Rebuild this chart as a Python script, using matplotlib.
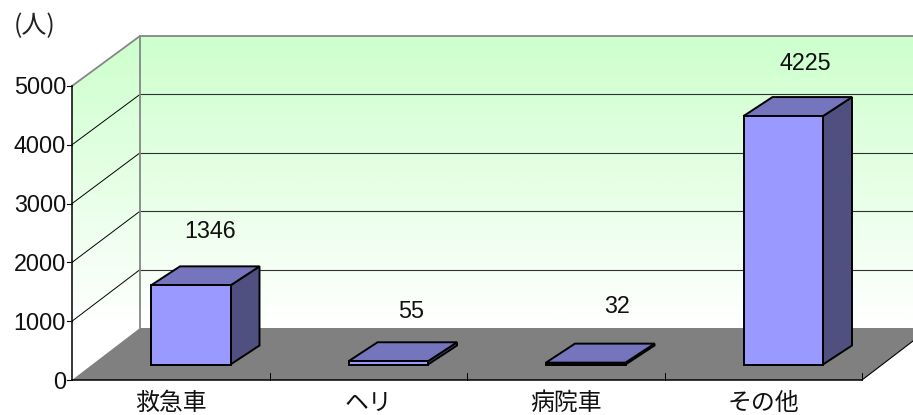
import numpy as np
import matplotlib
matplotlib.use("Agg")
import matplotlib.pyplot as plt
from matplotlib.colors import LinearSegmentedColormap
from matplotlib.patches import Polygon

categories = ["救急車", "ヘリ", "病院車", "その他"]
values = [1346, 55, 32, 4225]
y_ticks = [0, 1000, 2000, 3000, 4000, 5000]
unit_label = "(人)"

JP = ["Noto Sans CJK JP", "DejaVu Sans"]
NUM = "Liberation Sans"
FS = 16.8
FS_JP = 17.2

# 3D chart frame, in pixels
X0, X1, Y0 = 72, 862, 380
DX, DY_BOT, DY_TOP = 68, 52, 50
VMAX = 5000
FRONT_H = 294
BACK_H = 292
BAR_W, BAR_DX, BAR_DY = 79.5, 29, 19
BAR_BASE = 364.5
BAR_OFF = 79
# label offset from the bar's top-front-centre
LABEL_OFF = [(19, -54), (23, -50), (31, -56), (22, -53)]

fig = plt.figure(figsize=(9.13, 4.15), dpi=100)
ax = fig.add_axes([0, 0, 1, 1])
ax.axis("off")

def fy(v):
    return Y0 - FRONT_H * v / VMAX

def by(v):
    return (Y0 - DY_BOT) - BACK_H * v / VMAX

XB = X0 + DX
top_back, bot_back = by(VMAX), by(0)

# Gradient walls
cmap = LinearSegmentedColormap.from_list("wall", ["#CCFFCC", "#FFFFFF"])
grad = np.linspace(0, 1, 300).reshape(-1, 1)
img = ax.imshow(grad, cmap=cmap, extent=(0, 913, 325, top_back), aspect="auto", zorder=1)
walls = Polygon([(X0, fy(VMAX)), (XB, top_back), (913, top_back), (913, 380), (X0, Y0)],
                transform=ax.transData, fc="none", ec="none")
ax.add_patch(walls)
img.set_clip_path(walls)

# Floor
ax.add_patch(Polygon([(X0, Y0), (XB, bot_back), (913, bot_back), (913, Y0 - (913 - X1) * DY_BOT / DX), (X1, Y0)],
                     fc="#808080", ec="none", zorder=2))
ax.plot([X1, 913], [Y0, Y0 - (913 - X1) * DY_BOT / DX], color="black", lw=0.8, zorder=3)

# Gridlines
for v in y_ticks[1:-1]:
    ax.plot([X0, XB], [fy(v), by(v)], color="black", lw=0.7, zorder=3)
    ax.plot([XB, 913], [by(v), by(v)], color="#303030", lw=0.8, zorder=3)

# Gray frame
ax.plot([X0, XB, 913], [fy(VMAX), top_back, top_back], color="#868686", lw=1.3, zorder=3)
ax.plot([XB, XB], [top_back, bot_back], color="#868686", lw=1.3, zorder=3)

# Axes
ax.plot([X0, X0], [fy(VMAX), Y0], color="black", lw=1.1, zorder=4)
ax.plot([X0, X1], [Y0, Y0], color="black", lw=1.1, zorder=4)
for v in y_ticks:
    ax.plot([X0 - 5, X0], [fy(v), fy(v)], color="black", lw=0.8, zorder=4)
    ax.text(X0 - 6, fy(v) + 2, str(v), ha="right", va="center", family=NUM, fontsize=FS, color="#111111", zorder=5)
slot = (X1 - X0) / len(categories)
for i in range(1, len(categories) + 1):
    ax.plot([X0 + i * slot] * 2, [Y0 - 7, Y0], color="black", lw=0.7, zorder=4)

# Bars
for i, (cat, v) in enumerate(zip(categories, values)):
    left = X0 + slot * i + BAR_OFF
    right = left + BAR_W
    h = FRONT_H * v / VMAX
    top = BAR_BASE - h
    kw = dict(ec="black", lw=1.4, joinstyle="miter", zorder=6)
    ax.add_patch(Polygon([(right, BAR_BASE), (right + BAR_DX, BAR_BASE - BAR_DY),
                          (right + BAR_DX, top - BAR_DY), (right, top)], fc="#4F4F80", **kw))
    ax.add_patch(Polygon([(left, top), (right, top), (right + BAR_DX, top - BAR_DY),
                          (left + BAR_DX, top - BAR_DY)], fc="#7575BD", **kw))
    ax.add_patch(Polygon([(left, BAR_BASE), (right, BAR_BASE), (right, top), (left, top)], fc="#9999FF", **kw))
    ox, oy = LABEL_OFF[i]
    ax.text((left + right) / 2 + ox, top + oy, str(v), ha="center", va="center",
            family=NUM, fontsize=FS, color="#111111", zorder=7)
    ax.text(X0 + slot * (i + 0.5), 403, cat, ha="center", va="center",
            family=JP, fontsize=FS_JP, color="#111111", zorder=7)

ax.text(35, 26, unit_label, ha="center", va="center", family=JP, fontsize=18, color="#222222")

ax.set_xlim(0, 913)
ax.set_ylim(415, 0)
fig.savefig("out.png", dpi=100, facecolor="white")
